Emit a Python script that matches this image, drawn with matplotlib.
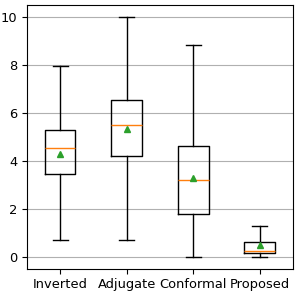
import matplotlib
matplotlib.use("Agg")
import matplotlib.pyplot as plt

methods = ["Inverted", "Adjugate", "Conformal", "Proposed"]
whislo = [0.69, 0.71, 0.0, 0.0]
q1 = [3.46, 4.22, 1.80, 0.14]
med = [4.54, 5.50, 3.19, 0.25]
q3 = [5.29, 6.55, 4.60, 0.60]
whishi = [7.96, 10.0, 8.83, 1.30]
means = [4.28, 5.32, 3.27, 0.48]

stats = []
for i, name in enumerate(methods):
    stats.append({
        "label": name,
        "whislo": whislo[i],
        "q1": q1[i],
        "med": med[i],
        "q3": q3[i],
        "whishi": whishi[i],
        "mean": means[i],
        "fliers": [],
    })

fig, ax = plt.subplots(figsize=(2.99, 2.93), dpi=100)
ax.bxp(stats, showmeans=True, widths=0.46,
       meanprops=dict(marker="^", markersize=4.5,
                      markerfacecolor="#2ca02c", markeredgecolor="#2ca02c"))
ax.yaxis.grid(True, color="#b0b0b0")
ax.set_axisbelow(True)
ax.set_ylim(-0.5, 10.5)
ax.tick_params(labelsize=9.4)
fig.subplots_adjust(left=0.09, right=0.98, top=0.983, bottom=0.083)
fig.savefig("out.png")
